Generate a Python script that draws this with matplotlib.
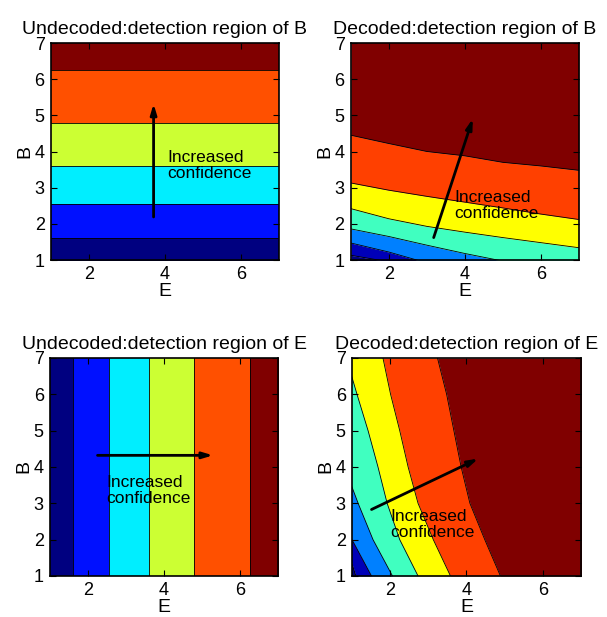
"""Detection regions of B and E, undecoded vs decoded."""

import numpy as np
import matplotlib
matplotlib.use("Agg")
import matplotlib.pyplot as plt

plt.rcParams["font.family"] = ["Liberation Sans", "DejaVu Sans"]

# grid sample points
e_pts = [1, 2, 3, 4, 5, 6, 7]
b_pts = [1, 2, 3, 4, 5, 6, 7]

# undecoded: straight band edges (same for B and E)
undecoded_edges = [1.6, 2.55, 3.6, 4.8, 6.25]
undecoded_colors = ["#000080", "#0010ff", "#00eeff", "#ccff33", "#ff5000", "#800000"]

# decoded region of B: band edges B(E), lowest to highest
dec_b_edges = [
    [1.13, 0.95, 0.8, 0.6, 0.4, 0.2, 0.0],
    [1.47, 1.22, 0.92, 0.70, 0.50, 0.30, 0.10],
    [1.86, 1.65, 1.41, 1.18, 0.97, 0.80, 0.60],
    [2.42, 2.14, 1.93, 1.77, 1.62, 1.48, 1.34],
    [3.13, 2.93, 2.76, 2.60, 2.44, 2.27, 2.12],
    [4.45, 4.22, 4.00, 3.88, 3.70, 3.60, 3.48],
]
dec_colors = ["#000080", "#0000b8", "#0080ff", "#40ffc0", "#ffff00", "#ff4000", "#800000"]

# decoded region of E: band edges E(B), lowest to highest
dec_e_edges = [
    [1.10, 0.80, 0.5, 0.3, 0.1, 0.0, 0.0],
    [1.51, 1.00, 0.60, 0.30, 0.10, 0.00, 0.00],
    [2.06, 1.55, 1.16, 0.80, 0.50, 0.30, 0.10],
    [2.73, 2.25, 1.92, 1.68, 1.42, 1.13, 0.85],
    [3.58, 3.13, 2.73, 2.47, 2.25, 2.01, 1.81],
    [4.89, 4.48, 4.09, 3.86, 3.67, 3.48, 3.24],
]

titles = [
    "Undecoded:detection region of B",
    "Decoded:detection region of B",
    "Undecoded:detection region of E",
    "Decoded:detection region of E",
]
# arrow (start, end) and text anchor in data units
arrows = [
    ((3.70, 2.19), (3.70, 5.32)),
    ((3.18, 1.62), (4.21, 4.91)),
    ((2.25, 4.32), (5.29, 4.32)),
    ((1.51, 2.83), (4.31, 4.23)),
]
text_pos = [(4.05, 3.62), (3.72, 2.51), (2.48, 3.35), (2.0, 2.42)]

positions = [
    [0.084, 0.5786, 0.3756, 0.3517],
    [0.578, 0.5786, 0.3756, 0.3517],
    [0.0824, 0.0665, 0.3756, 0.3533],
    [0.580, 0.0665, 0.3770, 0.3533],
]

fig = plt.figure(figsize=(6.07, 6.17), dpi=100)
axes = [fig.add_axes(p) for p in positions]

edge_kw = dict(color="black", linewidth=0.6)


def bands_along_b(ax, edges, colors):
    x = np.array(e_pts, dtype=float)
    lows = [np.zeros_like(x)] + [np.array(e, dtype=float) for e in edges]
    highs = [np.array(e, dtype=float) for e in edges] + [np.full_like(x, 8.0)]
    for lo, hi, c in zip(lows, highs, colors):
        ax.fill_between(x, lo, hi, color=c, linewidth=0)
    for e in edges:
        ax.plot(x, e, **edge_kw)


def bands_along_e(ax, edges, colors):
    y = np.array(b_pts, dtype=float)
    lows = [np.zeros_like(y)] + [np.array(e, dtype=float) for e in edges]
    highs = [np.array(e, dtype=float) for e in edges] + [np.full_like(y, 8.0)]
    for lo, hi, c in zip(lows, highs, colors):
        ax.fill_betweenx(y, lo, hi, color=c, linewidth=0)
    for e in edges:
        ax.plot(e, y, **edge_kw)


# undecoded bands are flat, so repeat each edge across the axis
flat = [[v] * len(e_pts) for v in undecoded_edges]
bands_along_b(axes[0], flat, undecoded_colors)
bands_along_b(axes[1], dec_b_edges, dec_colors)
bands_along_e(axes[2], flat, undecoded_colors)
bands_along_e(axes[3], dec_e_edges, dec_colors)

for ax, title, (start, end), (tx, ty) in zip(axes, titles, arrows, text_pos):
    ax.set_xlim(1, 7)
    ax.set_ylim(1, 7)
    ax.set_xticks([2, 4, 6])
    ax.set_yticks([1, 2, 3, 4, 5, 6, 7])
    ax.tick_params(direction="in", top=True, right=True, labelsize=13,
                   length=4, width=0.8, pad=4.5)
    for s in ax.spines.values():
        s.set_linewidth(1.2)
    ax.set_xlabel("E", fontsize=14, labelpad=0)
    ax.set_ylabel("B", fontsize=14, labelpad=1)
    ax.set_title(title, fontsize=14, pad=6.5)
    ax.annotate("", xy=end, xytext=start,
                arrowprops=dict(arrowstyle="-|>,head_length=0.6,head_width=0.18",
                                color="black", lw=2, shrinkA=0, shrinkB=0))
    ax.text(tx, ty, "Increased\nconfidence", fontsize=12.5, ha="left",
            va="center", linespacing=1.05)

fig.savefig("out.png", dpi=100)
